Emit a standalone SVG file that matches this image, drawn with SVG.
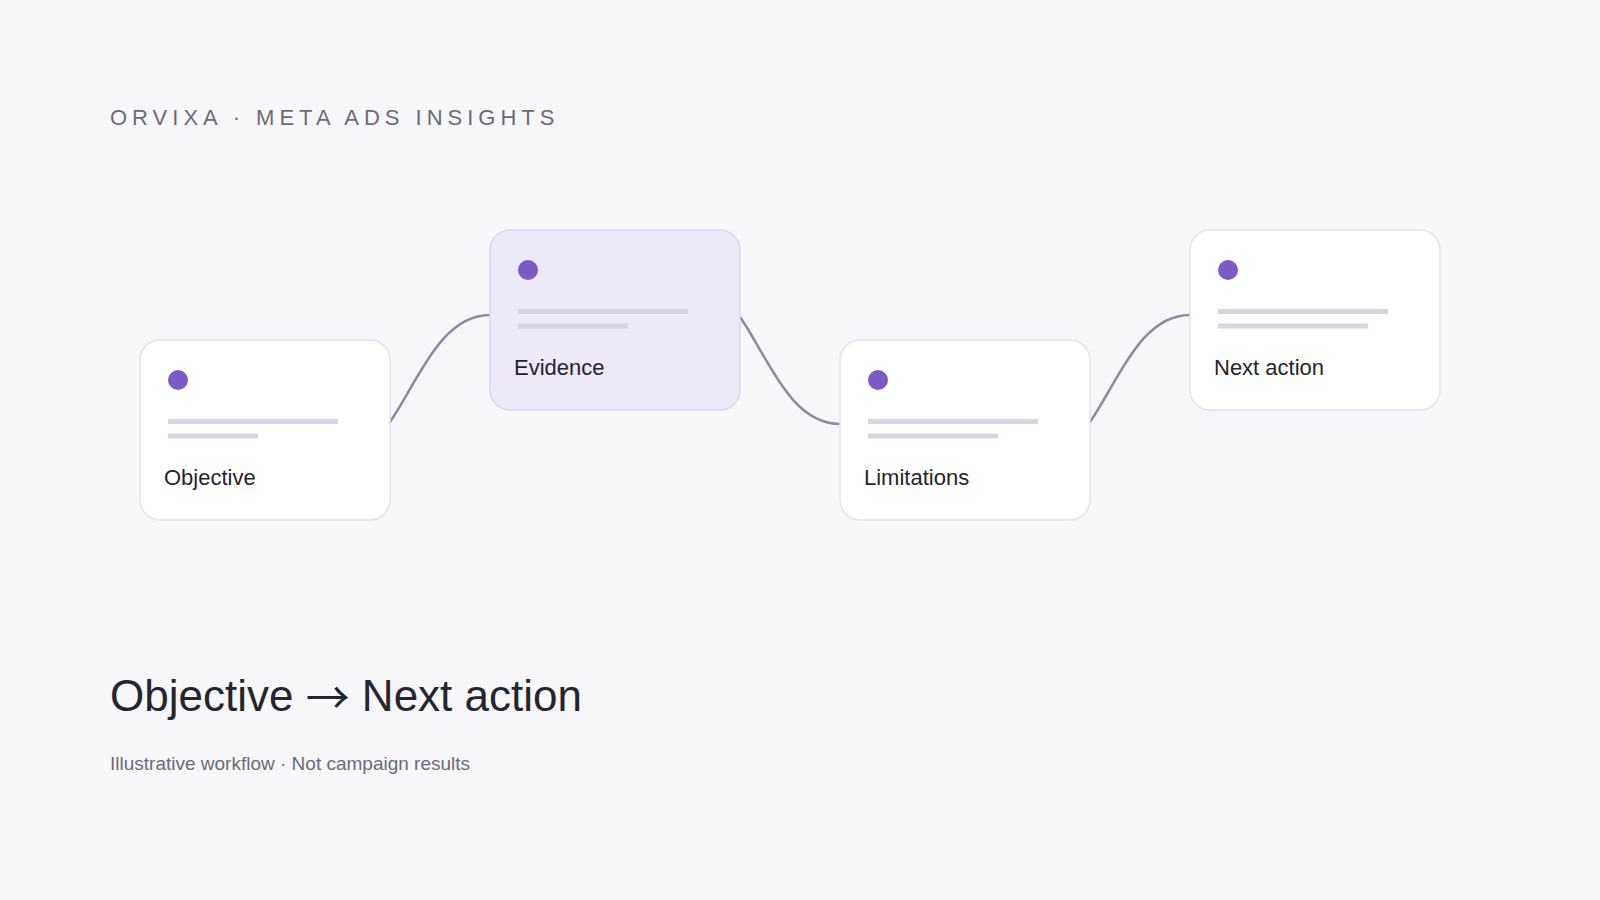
<svg xmlns="http://www.w3.org/2000/svg" width="1600" height="900" viewBox="0 0 1600 900">
  <style>
    .card { fill: #ffffff; stroke: #e4e2ea; stroke-width: 1.5; }
    .card.active { fill: #ede9f8; stroke: #dcd6ee; }
    .dot { fill: #7c5cc4; }
    .bar { stroke: #d8d5e2; stroke-width: 5; }
    .label { font-family: "Liberation Sans", Arial, sans-serif; font-size: 22px; fill: #25252f; }
    .conn { fill: none; stroke: #8e88a3; stroke-width: 2.5; stroke-linecap: round; }
    .eyebrow { font-family: "Liberation Sans", Arial, sans-serif; font-size: 22px; letter-spacing: 5px; fill: #6b6b7b; }
    .title { font-family: "Liberation Sans", Arial, sans-serif; font-size: 44px; fill: #25252f; }
    .arrow { font-family: "Noto Sans CJK SC", "DejaVu Sans", sans-serif; }
    .sub { font-family: "Liberation Sans", Arial, sans-serif; font-size: 19px; fill: #6b6b7b; }
  </style>
  <rect x="0" y="0" width="1600" height="900" fill="#f7f7f9"/>
  <text class="eyebrow" x="110" y="125">ORVIXA · META ADS INSIGHTS</text>

  <g id="connectors">
    <path class="conn" d="M390 422 C418 382 440 315 490 315"/>
    <path class="conn" d="M740 317 C768 357 790 424 840 424"/>
    <path class="conn" d="M1090 422 C1118 382 1140 315 1190 315"/>
  </g>

  <g id="node-objective" transform="translate(140,340)">
    <rect class="card" x="0" y="0" width="250" height="180" rx="20"/>
    <circle class="dot" cx="38" cy="40" r="10"/>
    <line class="bar" x1="28" y1="81.5" x2="198" y2="81.5"/>
    <line class="bar" x1="28" y1="96" x2="118" y2="96"/>
    <text class="label" x="24" y="145">Objective</text>
  </g>

  <g id="node-evidence" transform="translate(490,230)">
    <rect class="card active" x="0" y="0" width="250" height="180" rx="20"/>
    <circle class="dot" cx="38" cy="40" r="10"/>
    <line class="bar" x1="28" y1="81.5" x2="198" y2="81.5"/>
    <line class="bar" x1="28" y1="96" x2="138" y2="96"/>
    <text class="label" x="24" y="145">Evidence</text>
  </g>

  <g id="node-limitations" transform="translate(840,340)">
    <rect class="card" x="0" y="0" width="250" height="180" rx="20"/>
    <circle class="dot" cx="38" cy="40" r="10"/>
    <line class="bar" x1="28" y1="81.5" x2="198" y2="81.5"/>
    <line class="bar" x1="28" y1="96" x2="158" y2="96"/>
    <text class="label" x="24" y="145">Limitations</text>
  </g>

  <g id="node-next-action" transform="translate(1190,230)">
    <rect class="card" x="0" y="0" width="250" height="180" rx="20"/>
    <circle class="dot" cx="38" cy="40" r="10"/>
    <line class="bar" x1="28" y1="81.5" x2="198" y2="81.5"/>
    <line class="bar" x1="28" y1="96" x2="178" y2="96"/>
    <text class="label" x="24" y="145">Next action</text>
  </g>

  <text class="title" x="110" y="711">Objective <tspan class="arrow" dy="3">→</tspan><tspan dy="-3"> Next action</tspan></text>
  <text class="sub" x="110" y="770">Illustrative workflow · Not campaign results</text>
</svg>
